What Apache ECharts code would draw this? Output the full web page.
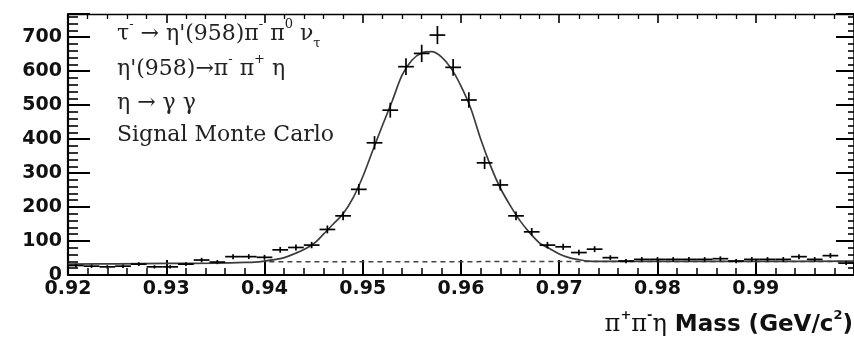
<!DOCTYPE html>
<html>
<head>
<meta charset="utf-8">
<script src="https://cdn.jsdelivr.net/npm/echarts@6/dist/echarts.min.js"></script>
<style>
html,body{margin:0;padding:0;background:#fff;}
#c{width:854px;height:339px;}
</style>
</head>
<body>
<div id="c"></div>
<script>
// Histogram binning (x axis categories)
const binStart = 0.92;
const binWidth = 0.0016;
// Counts per bin
const counts = [28, 26, 24, 26, 32, 24, 24, 32, 44, 38,
                54, 54, 52, 74, 81, 88, 134, 174, 252, 389,
                485, 613, 652, 706, 611, 515, 330, 265, 174, 127,
                88, 83, 66, 76, 51, 41, 46, 46, 46, 46,
                46, 48, 41, 46, 46, 46, 54, 46, 57, 35];
// Vertical error bars per bin
const errors = [5.3, 5.1, 4.9, 5.1, 5.7, 4.9, 4.9, 5.7, 6.6, 6.2,
                7.3, 7.3, 7.2, 8.6, 9.0, 9.4, 11.6, 13.2, 15.9, 19.7,
                22.0, 24.8, 25.5, 26.6, 24.7, 22.7, 18.2, 16.3, 13.2, 11.3,
                9.4, 9.1, 8.1, 8.7, 7.1, 6.4, 6.8, 6.8, 6.8, 6.8,
                6.8, 6.9, 6.4, 6.8, 6.8, 6.8, 7.3, 6.8, 7.5, 5.9];
// Fit curve
const curveX = [0.920, 0.925, 0.930, 0.935, 0.938, 0.939, 0.940, 0.941, 0.942, 0.943,
                0.944, 0.945, 0.946, 0.947, 0.948, 0.949, 0.950, 0.951, 0.952, 0.953,
                0.954, 0.955, 0.956, 0.957, 0.958, 0.959, 0.960, 0.961, 0.962, 0.963,
                0.964, 0.965, 0.966, 0.967, 0.968, 0.969, 0.970, 0.971, 0.972, 0.973,
                0.975, 0.980, 0.990, 1.000];
const curveY = [32, 33, 34, 35, 37, 38, 41, 45, 51, 62,
                75, 92, 120, 150, 180, 226, 289, 365, 440, 512,
                588, 632, 653, 657, 642, 608, 556, 490, 400, 322,
                256, 205, 160, 124, 94, 78, 62, 51, 45, 41,
                40, 40, 40, 41];
// Background (dashed) component
const bgX = [0.9405, 1.000];
const bgY = [39, 40];
// Axis settings
const xMin = 0.92, xMax = 1.0, xStep = 0.01;
const yMin = 0, yMax = 768, yStep = 100;

const pointData = counts.map((c, i) => [binStart + binWidth * (i + 0.5), c, errors[i]]);
const curveData = curveX.map((x, i) => [x, curveY[i]]);
const bgData = bgX.map((x, i) => [x, bgY[i]]);

const chart = echarts.init(document.getElementById('c'), null, {renderer: 'canvas'});
const labelFont = {fontFamily: 'DejaVu Sans', fontWeight: 'bold', fontSize: 19, color: '#111'};
const serif = 'DejaVu Serif';

chart.setOption({
  animation: false,
  backgroundColor: '#fff',
  grid: {left: 68, right: -3, top: 14, bottom: 64},
  xAxis: [{
    type: 'value', position: 'bottom', min: xMin, max: xMax, interval: xStep,
    axisLine: {show: true, onZero: false, lineStyle: {color: '#000', width: 2}},
    axisTick: {show: true, inside: true, length: 15, lineStyle: {color: '#000', width: 2}},
    minorTick: {show: true, splitNumber: 5, length: 7, lineStyle: {color: '#000', width: 1.5}},
    axisLabel: Object.assign({margin: 5, showMaxLabel: false, formatter: v => v.toFixed(2)}, labelFont),
    splitLine: {show: false}
  }, {
    type: 'value', position: 'top', min: xMin, max: xMax, interval: xStep,
    axisLine: {show: true, onZero: false, lineStyle: {color: '#000', width: 1.3}},
    axisTick: {show: true, inside: true, length: 9, lineStyle: {color: '#000', width: 1.6}},
    minorTick: {show: true, splitNumber: 5, length: 5, lineStyle: {color: '#000', width: 1.3}},
    axisLabel: {show: false},
    splitLine: {show: false}
  }],
  yAxis: [{
    type: 'value', position: 'left', min: yMin, max: yMax, interval: yStep,
    axisLine: {show: true, onZero: false, lineStyle: {color: '#000', width: 2.2}},
    axisTick: {show: true, inside: true, length: 22, lineStyle: {color: '#000', width: 2}},
    minorTick: {show: true, splitNumber: 5, length: 10, lineStyle: {color: '#000', width: 1.6}},
    axisLabel: Object.assign({margin: 6, showMaxLabel: false}, labelFont),
    splitLine: {show: false}
  }, {
    type: 'value', position: 'right', min: yMin, max: yMax, interval: yStep,
    axisLine: {show: true, onZero: false, lineStyle: {color: '#000', width: 1.5}},
    axisTick: {show: true, inside: true, length: 18, lineStyle: {color: '#000', width: 2}},
    minorTick: {show: true, splitNumber: 5, length: 6, lineStyle: {color: '#000', width: 1.6}},
    axisLabel: {show: false},
    splitLine: {show: false}
  }],
  series: [{
    type: 'line', name: 'background', data: bgData, symbol: 'none', z: 1,
    lineStyle: {color: '#444', width: 1.5, type: [5, 4]}
  }, {
    type: 'line', name: 'fit', data: curveData, symbol: 'none', smooth: 0.3, z: 2,
    lineStyle: {color: '#3c3c3c', width: 1.7}
  }, {
    type: 'custom', name: 'data', data: pointData, clip: true, z: 3,
    renderItem: function (params, api) {
      const x = api.value(0), y = api.value(1), e = api.value(2);
      const pL = api.coord([x - binWidth / 2, y]);
      const pR = api.coord([x + binWidth / 2, y]);
      const pT = api.coord([x, y + e]);
      const pB = api.coord([x, y - e]);
      const st = {stroke: '#000', lineWidth: 1.7};
      return {type: 'group', children: [
        {type: 'line', shape: {x1: pL[0], y1: pL[1], x2: pR[0], y2: pR[1]}, style: st},
        {type: 'line', shape: {x1: pT[0], y1: pT[1], x2: pB[0], y2: pB[1]}, style: st}
      ]};
    }
  }],
  graphic: [{
    type: 'text', left: 117, top: 18,
    style: {
      text: '{m|τ}{sup|-}{m| → η\'(958)π}{sup|-}{m| π}{sup|0}{m| ν}{sub|τ}',
      rich: {
        m: {fontFamily: serif, fontSize: 22, lineHeight: 32, fill: '#222'},
        sup: {fontFamily: serif, fontSize: 13, verticalAlign: 'top', lineHeight: 32, fill: '#222'},
        sub: {fontFamily: serif, fontSize: 13, verticalAlign: 'bottom', lineHeight: 32, fill: '#222'}
      }
    }
  }, {
    type: 'text', left: 117, top: 53,
    style: {
      text: '{m|η\'(958)→π}{sup|-}{m| π}{sup|+}{m| η}',
      rich: {
        m: {fontFamily: serif, fontSize: 22, lineHeight: 32, fill: '#222'},
        sup: {fontFamily: serif, fontSize: 13, verticalAlign: 'top', lineHeight: 32, fill: '#222'}
      }
    }
  }, {
    type: 'text', left: 117, top: 92,
    style: {text: 'η → γ γ', font: '22px "DejaVu Serif"', fill: '#222'}
  }, {
    type: 'text', left: 117, top: 124,
    style: {text: 'Signal Monte Carlo', font: '22px "DejaVu Serif"', fill: '#222'}
  }, {
    type: 'text', right: 1, top: 309,
    style: {
      text: '{g|π}{sup|+}{g|π}{sup|-}{g|η}{b| Mass (GeV/c}{sup|2}{b|)}',
      rich: {
        g: {fontFamily: serif, fontSize: 24, lineHeight: 32, fill: '#111'},
        b: {fontFamily: 'DejaVu Sans', fontWeight: 'bold', fontSize: 23, lineHeight: 32, fill: '#111'},
        sup: {fontFamily: 'DejaVu Sans', fontWeight: 'bold', fontSize: 13, verticalAlign: 'top', lineHeight: 32, fill: '#111'}
      }
    }
  }]
});
</script>
</body>
</html>
